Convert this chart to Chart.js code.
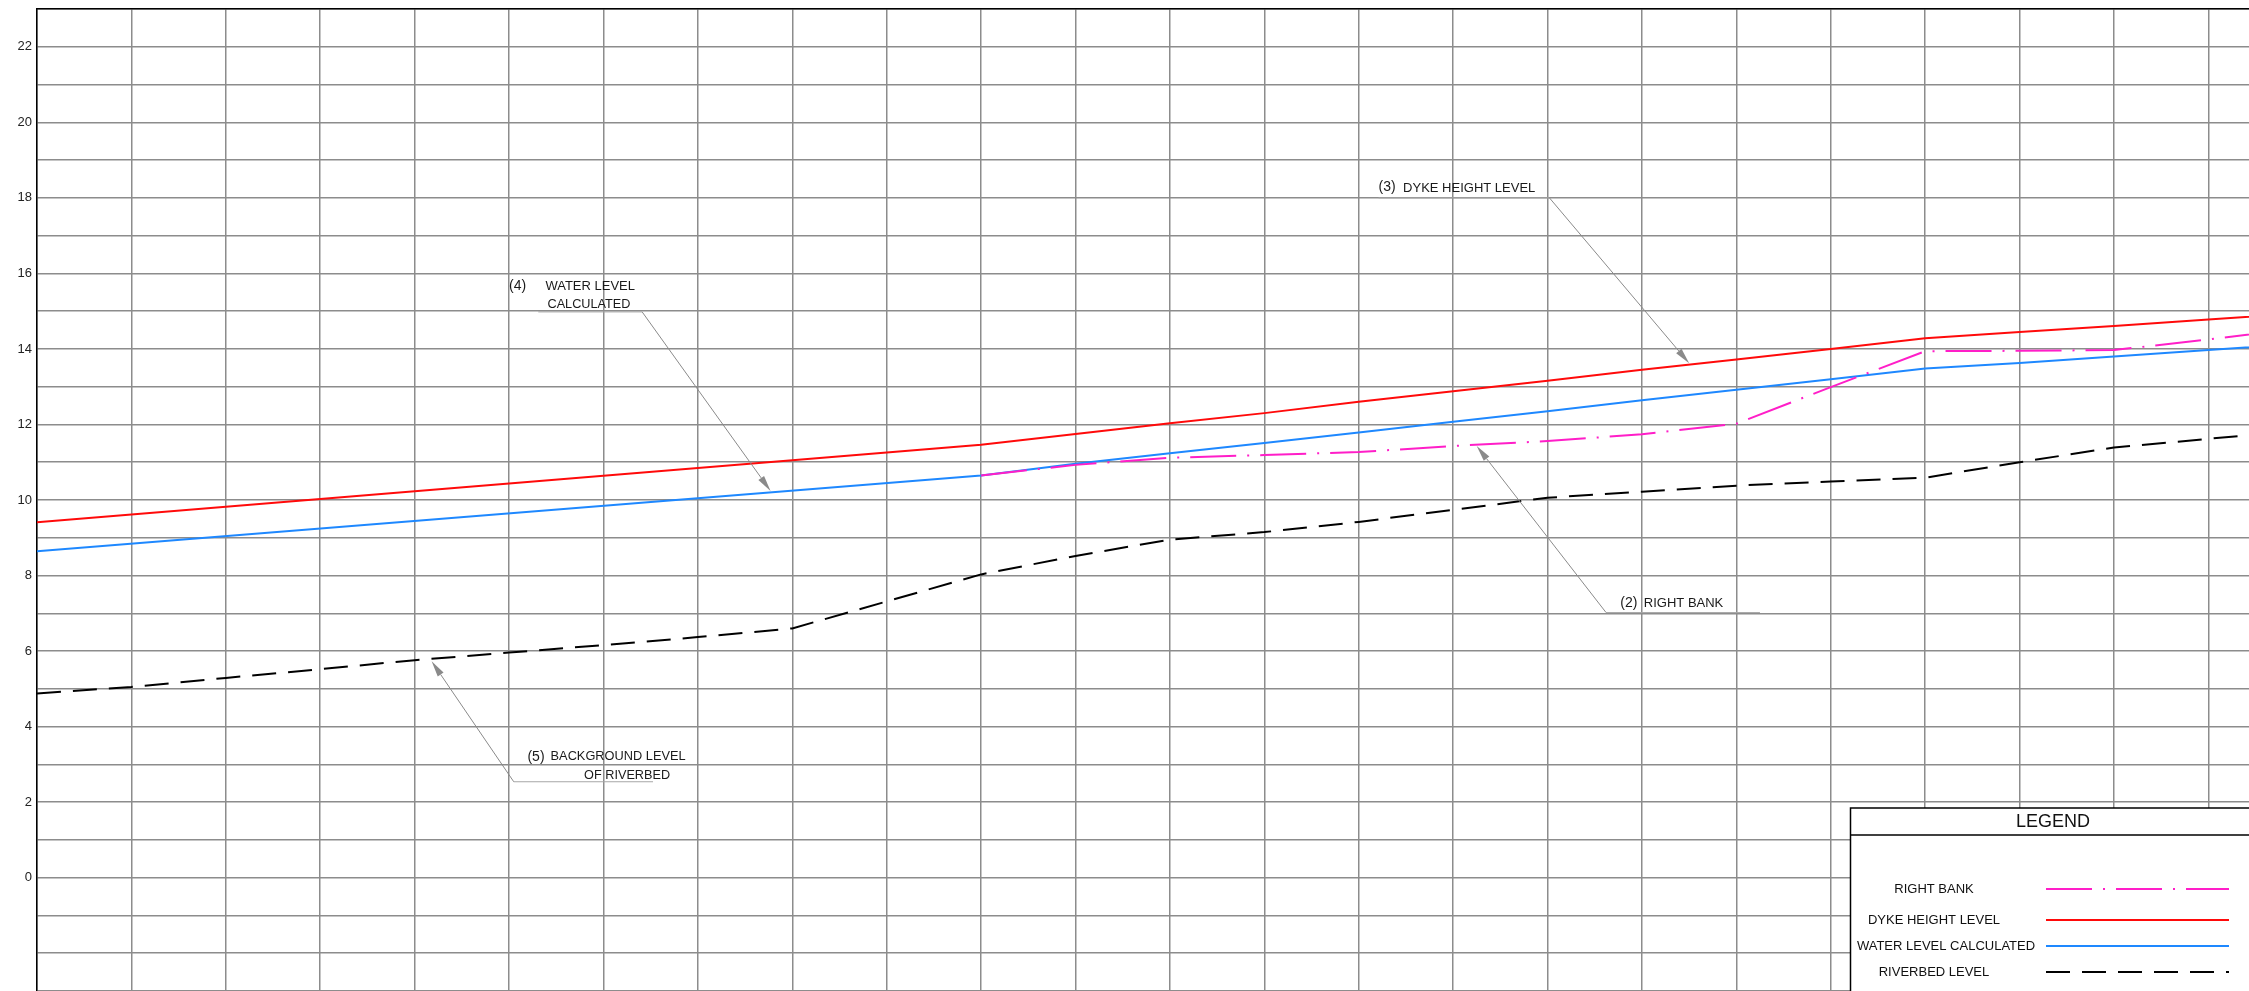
<!DOCTYPE html>
<html>
<head>
<meta charset="utf-8">
<script src="https://cdn.jsdelivr.net/npm/chart.js@4"></script>
<style>
  html, body { margin: 0; padding: 0; background: #fff; }
  canvas { display: block; }
</style>
</head>
<body>
<canvas id="profileChart" width="2249" height="991"></canvas>
<script>
// stations along the river (one grid column each)
const stations = [0,1,2,3,4,5,6,7,8,9,10,11,12,13,14,15,16,17,18,19,20,21,22,23,24];

// levels, null where the line just runs straight through
const rightBank = [null,null,null,null,null,null,null,null,null,null,
  10.65,10.93,11.12,11.19,11.27,11.43,11.56,11.74,12.02,12.99,13.94,13.95,13.97,14.25,14.55];
const dykeLevel = [9.41,null,null,null,null,null,null,null,null,null,
  11.46,11.75,12.03,12.30,12.60,12.88,13.16,13.45,13.72,14.00,14.28,14.45,14.61,14.78,14.95];
const waterLevel = [8.64,null,null,null,null,null,null,null,null,null,
  10.65,10.96,11.24,11.51,11.79,12.07,12.35,12.64,12.92,13.20,13.48,13.63,13.80,13.97,14.14];
const riverbed = [4.88,5.05,5.29,5.52,5.76,5.96,6.16,6.37,6.60,null,
  8.03,8.52,8.95,9.15,9.42,9.74,10.06,10.22,10.38,10.49,10.59,11.00,11.39,11.62,11.85];

const yTickLabels = [0,2,4,6,8,10,12,14,16,18,20,22];

function toPoints(vals){
  return stations.map((x, i) => ({x: x, y: vals[i]}));
}

// callouts, placed in chart units
const notes = [
  { tag: '(4)', tagAt: [5.0, 15.66],
    text: [['WATER LEVEL', 5.385, 15.66, 90], ['CALCULATED', 5.407, 15.18, 83]],
    under: [5.31, 6.41, 14.98], from: [6.41, 14.98], tip: [7.77, 10.24] },
  { tag: '(3)', tagAt: [14.21, 18.29],
    text: [['DYKE HEIGHT LEVEL', 14.47, 18.24, 135]],
    under: [14.21, 16.02, 18.0], from: [16.02, 18.0], tip: [17.5, 13.62] },
  { tag: '(2)', tagAt: [16.77, 7.26],
    text: [['RIGHT BANK', 17.02, 7.26, 81]],
    under: [16.62, 18.25, 7.02], from: [16.62, 7.02], tip: [15.25, 11.43] },
  { tag: '(5)', tagAt: [5.195, 3.2],
    text: [['BACKGROUND LEVEL', 5.44, 3.22, 135], ['OF RIVERBED', 5.795, 2.72, 86]],
    under: [5.05, 6.525, 2.54], from: [5.05, 2.54], tip: [4.18, 5.73] }
];

const calloutPlugin = {
  id: 'callouts',
  afterDatasetsDraw(chart){
    const ctx = chart.ctx;
    const xs = chart.scales.x, ys = chart.scales.y;
    ctx.save();
    notes.forEach(n => {
      // underline
      ctx.strokeStyle = '#a6a6a6';
      ctx.lineWidth = 1;
      ctx.beginPath();
      ctx.moveTo(xs.getPixelForValue(n.under[0]), ys.getPixelForValue(n.under[2]));
      ctx.lineTo(xs.getPixelForValue(n.under[1]), ys.getPixelForValue(n.under[2]));
      ctx.stroke();

      // leader + arrow
      const x0 = xs.getPixelForValue(n.from[0]), y0 = ys.getPixelForValue(n.from[1]);
      const x1 = xs.getPixelForValue(n.tip[0]), y1 = ys.getPixelForValue(n.tip[1]);
      const a = Math.atan2(y1 - y0, x1 - x0);
      const len = 16, hw = 3.5;
      ctx.strokeStyle = '#8a8a8a';
      ctx.beginPath();
      ctx.moveTo(x0, y0);
      ctx.lineTo(x1 - Math.cos(a) * len, y1 - Math.sin(a) * len);
      ctx.stroke();
      ctx.fillStyle = '#8a8a8a';
      ctx.beginPath();
      ctx.moveTo(x1, y1);
      ctx.lineTo(x1 - Math.cos(a) * len - Math.sin(a) * hw, y1 - Math.sin(a) * len + Math.cos(a) * hw);
      ctx.lineTo(x1 - Math.cos(a) * len + Math.sin(a) * hw, y1 - Math.sin(a) * len - Math.cos(a) * hw);
      ctx.closePath();
      ctx.fill();

      // texts
      ctx.fillStyle = '#1a1a1a';
      ctx.textBaseline = 'middle';
      ctx.textAlign = 'left';
      ctx.font = '14px "Liberation Sans", Arial, sans-serif';
      ctx.fillText(n.tag, xs.getPixelForValue(n.tagAt[0]), ys.getPixelForValue(n.tagAt[1]));
      ctx.font = '13px "Liberation Sans", Arial, sans-serif';
      n.text.forEach(t => {
        ctx.fillText(t[0], xs.getPixelForValue(t[1]), ys.getPixelForValue(t[2]), t[3]);
      });
    });
    ctx.restore();
  }
};

// boxed legend in the lower right corner, built from the datasets
const legendBoxPlugin = {
  id: 'legendBox',
  afterDraw(chart){
    const ctx = chart.ctx;
    const left = 1850.5, top = 808;
    const rows = [889, 920, 946, 972];
    ctx.save();
    ctx.fillStyle = '#fff';
    ctx.fillRect(left, top, chart.width - left + 5, chart.height - top + 5);
    ctx.strokeStyle = '#000';
    ctx.lineWidth = 1.5;
    ctx.strokeRect(left, top, chart.width - left + 5, chart.height - top + 5);
    ctx.beginPath();
    ctx.moveTo(left, 835);
    ctx.lineTo(chart.width, 835);
    ctx.stroke();

    ctx.fillStyle = '#111';
    ctx.textAlign = 'center';
    ctx.textBaseline = 'middle';
    ctx.font = '18px "Liberation Sans", Arial, sans-serif';
    ctx.fillText('LEGEND', 2053, 822);

    ctx.font = '13px "Liberation Sans", Arial, sans-serif';
    chart.data.datasets.forEach((ds, i) => {
      const y = rows[i];
      ctx.fillStyle = '#111';
      ctx.fillText(ds.label, i === 2 ? 1946 : 1934, y);
      ctx.strokeStyle = ds.borderColor;
      ctx.lineWidth = 2;
      ctx.setLineDash(ds.borderDash || []);
      ctx.beginPath();
      ctx.moveTo(2046, y);
      ctx.lineTo(2229, y);
      ctx.stroke();
      ctx.setLineDash([]);
    });
    ctx.restore();
  }
};

const data = {
  datasets: [
    {
      label: 'RIGHT BANK',
      data: toPoints(rightBank),
      borderColor: '#ff1ec8',
      borderWidth: 2,
      borderDash: [46, 11, 2, 11]
    },
    {
      label: 'DYKE HEIGHT LEVEL',
      data: toPoints(dykeLevel),
      borderColor: '#ff0a0a',
      borderWidth: 2
    },
    {
      label: 'WATER LEVEL CALCULATED',
      data: toPoints(waterLevel),
      borderColor: '#1e88ff',
      borderWidth: 2
    },
    {
      label: 'RIVERBED LEVEL',
      data: toPoints(riverbed),
      borderColor: '#000000',
      borderWidth: 2,
      borderDash: [24, 12]
    }
  ]
};

const config = {
  type: 'line',
  data: data,
  options: {
    responsive: false,
    animation: false,
    devicePixelRatio: 1,
    spanGaps: true,
    layout: { padding: 0 },
    elements: {
      point: { radius: 0 },
      line: { tension: 0, fill: false }
    },
    scales: {
      x: {
        type: 'linear',
        position: 'top',
        min: 0,
        max: 23.43,
        afterFit: (scale) => { scale.height = 9; },
        ticks: { display: false, stepSize: 1, includeBounds: false },
        grid: { color: '#8c8c8c', lineWidth: 1.5, drawTicks: false },
        border: { display: true, color: '#000', width: 1.5 }
      },
      y: {
        type: 'linear',
        min: -3,
        max: 23,
        // plot runs off the bottom edge, so no room kept for the last label
        afterFit: (scale) => { scale.width = 37; scale.paddingBottom = 0; scale.paddingTop = 0; },
        ticks: {
          stepSize: 1,
          autoSkip: false,
          padding: 1,
          color: '#222',
          font: { family: '"Liberation Sans", Arial, sans-serif', size: 13 },
          callback: (v) => yTickLabels.includes(v) ? String(v) : ''
        },
        grid: {
          color: '#8c8c8c',
          lineWidth: 1.5,
          tickLength: 4,
          tickColor: 'rgba(0,0,0,0)'
        },
        border: { display: true, color: '#000', width: 1.5 }
      }
    },
    plugins: {
      legend: { display: false },
      tooltip: { enabled: false }
    }
  },
  plugins: [calloutPlugin, legendBoxPlugin]
};

const profileChart = new Chart(document.getElementById('profileChart'), config);
</script>
</body>
</html>
